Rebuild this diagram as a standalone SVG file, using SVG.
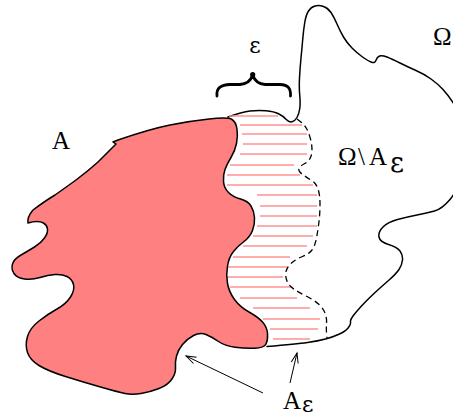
<svg xmlns="http://www.w3.org/2000/svg" width="453" height="418" viewBox="0 0 453 418">
<style>
.outline{fill:none;stroke:#000;stroke-width:1.5;stroke-linejoin:round;stroke-linecap:round}
.regionA{fill:#ff8080;stroke:#000;stroke-width:1.5;stroke-linejoin:round}
.hatch line{stroke:#ff9090;stroke-width:1.4}
.dash{fill:none;stroke:#000;stroke-width:1.3;stroke-dasharray:6 4}
.arrow{fill:none;stroke:#000;stroke-width:1;marker-end:url(#head)}
.lbl{font-family:"Liberation Serif","Times New Roman",serif;fill:#000}
.eps{font-family:"DejaVu Serif","Liberation Serif",serif}
</style>
<defs>
<marker id="head" markerUnits="userSpaceOnUse" markerWidth="14" markerHeight="12" viewBox="-1 -6 13 12" refX="10" refY="0" orient="auto">
<path d="M0,-3.5 L10,0 L0,3.5" fill="none" stroke="#000" stroke-width="1"/>
</marker>
</defs>
<rect width="453" height="418" fill="#fff"/>
<g id="omega">
<path class="outline" d="M228,117 Q242,112 250,111 Q258,110 266,110.75 Q274,111.5 278.5,113.75 Q283,116 286,119.25 Q289,122.5 292,121.75 Q295,121 297,117.5 Q299,114 299.75,108.5 Q300.5,103 299.75,95.5 Q299,88 299.5,78 Q300,68 301,58 Q302,48 302.75,39 Q303.5,30 304.75,22.5 Q306,15 308.5,11 Q311,7 315,6 Q319,5 323.5,6.5 Q328,8 331,12.5 Q334,17 337,24 Q340,31 343.5,37 Q347,43 352,48 Q357,53 362.5,57 Q368,61 371.5,62.25 Q375,63.5 376,60.25 Q377,57 379.5,56 Q382,55 387,57 Q392,59 400,63 Q408,67 416,70.5 Q424,74 431,79 Q438,84 443,89.5 Q448,95 453,102.5 Q458,110 463,130 Q468,150 463,170 Q458,190 450,199.5 Q442,209 434.5,211 Q427,213 417,215 Q407,217 397.5,219.5 Q388,222 383,227 Q378,232 379,237 Q380,242 388.5,244.5 Q397,247 400,251 Q403,255 402.5,260 Q402,265 399,269.5 Q396,274 388.5,280.5 Q381,287 374,293.5 Q367,300 361.5,306 Q356,312 353,316 Q350,320 350.5,322 Q351,324 348.5,327.5 Q346,331 339.5,334 Q333,337 325.5,339 Q318,341 307.5,342.5 Q297,344 267,346.5"/>
</g>
<g id="hatch" class="hatch">
<line x1="229" y1="116" x2="278" y2="116"/>
<line x1="240" y1="125" x2="302" y2="125"/>
<line x1="242" y1="134" x2="307" y2="134"/>
<line x1="243" y1="144" x2="307" y2="144"/>
<line x1="240" y1="154" x2="307" y2="154"/>
<line x1="230" y1="165" x2="294" y2="165"/>
<line x1="227" y1="175" x2="300" y2="175"/>
<line x1="227" y1="185" x2="313" y2="185"/>
<line x1="257" y1="195" x2="317" y2="195"/>
<line x1="260" y1="206" x2="317" y2="206"/>
<line x1="260" y1="216" x2="317" y2="216"/>
<line x1="257" y1="226" x2="317" y2="226"/>
<line x1="253" y1="236" x2="313" y2="236"/>
<line x1="243" y1="246" x2="307" y2="246"/>
<line x1="233" y1="257" x2="290" y2="257"/>
<line x1="228" y1="267" x2="287" y2="267"/>
<line x1="227" y1="277" x2="283" y2="277"/>
<line x1="230" y1="287" x2="293" y2="287"/>
<line x1="240" y1="298" x2="297" y2="298"/>
<line x1="253" y1="308" x2="310" y2="308"/>
<line x1="263" y1="319" x2="320" y2="319"/>
<line x1="270" y1="329" x2="318" y2="329"/>
<line x1="273" y1="339" x2="310" y2="339"/>
</g>
<g id="A">
<path class="regionA" d="M118,140 Q150,129 170,125 Q190,121 209,119 Q228,117 232,119.5 Q236,122 237,129 Q238,136 236.5,143.5 Q235,151 231,157.5 Q227,164 225,169.5 Q223,175 223.5,181.5 Q224,188 228.5,192.5 Q233,197 240.5,199 Q248,201 251,206 Q254,211 254.5,217.5 Q255,224 252.5,230.5 Q250,237 244,241.5 Q238,246 233.5,251.5 Q229,257 227.5,266 Q226,275 227.5,283.5 Q229,292 234.5,299.5 Q240,307 249,312 Q258,317 262.5,322 Q267,327 267.5,333.5 Q268,340 266,344 Q264,348 254.5,348.2 Q245,348.5 235,347.2 Q225,346 218.5,341.5 Q212,337 206,334.5 Q200,332 193.5,335.5 Q187,339 182.5,344.5 Q178,350 176.5,356 Q175,362 175.5,367.5 Q176,373 172,379 Q168,385 159,388.5 Q150,392 141,393.5 Q132,395 125,393.5 Q118,392 100.5,387 Q83,382 65.5,376.5 Q48,371 39,365.5 Q30,360 27.5,352.5 Q25,345 27.5,336.5 Q30,328 39,321 Q48,314 57,309 Q66,304 70.5,297 Q75,290 73.5,284.5 Q72,279 67,276.5 Q62,274 55,274.5 Q48,275 40,277.5 Q32,280 24.5,279 Q17,278 14,273.5 Q11,269 12.5,264 Q14,259 21,255 Q28,251 34.5,247 Q41,243 44.5,238 Q48,233 47.5,229 Q47,225 43.5,223 Q38,220 28,223 Q27,217 33,210 Q45,201 55,195 Q65,188 76,180 Q88,171 98,162 Q108,152 112,148 L116,144 L113,142 Z"/>
</g>
<g id="boundary-dashed">
<path class="dash" d="M297,119 Q304,124 306.5,128.5 Q309,133 310.5,139 Q312,145 312,150 Q312,155 310,158.5 Q308,162 304,164 Q300,166 299,168.5 Q298,171 302,174 Q306,177 311,180 Q316,183 318,189 Q320,195 320,204 Q320,213 319,221.5 Q318,230 316.5,238 Q315,246 312,250 Q309,254 302.5,256.5 Q296,259 291.5,263 Q287,267 286,271.5 Q285,276 287,281 Q289,286 294.5,289.5 Q300,293 307,296.5 Q314,300 318.5,304 Q323,308 325,313 Q327,318 326.5,324 Q326,330 327,338"/>
</g>
<g id="brace">
<path d="M217,96 C216,88 221,85 230,84.5 L240,84.5 C247,84 251,80 252.7,75 C254.4,80 258,84 265,84.5 L280,84.5 C288,85 291,88 290.5,96" fill="none" stroke="#000" stroke-width="2.8" stroke-linecap="round" stroke-linejoin="round"/>
<circle cx="252.7" cy="74.5" r="2.6" fill="#000"/>
</g>
<g id="connectors">
<line class="arrow" x1="263" y1="393" x2="186" y2="356"/>
<line class="arrow" x1="290" y1="383" x2="297" y2="353"/>
</g>
<g id="labels">
<text class="lbl eps" x="255" y="53" font-size="22" text-anchor="middle">ε</text>
<text class="lbl" x="52" y="149" font-size="25">A</text>
<text class="lbl" x="433" y="45" font-size="25">Ω</text>
<text class="lbl" font-size="25"><tspan x="338" y="165">Ω</tspan><tspan x="358" y="165">\</tspan><tspan x="369" y="165">A</tspan><tspan class="eps" x="390" y="172" font-size="27">ε</tspan></text>
<text class="lbl" font-size="25"><tspan x="283" y="409">A</tspan><tspan class="eps" x="302" y="412" font-size="22">ε</tspan></text>
</g>
</svg>
